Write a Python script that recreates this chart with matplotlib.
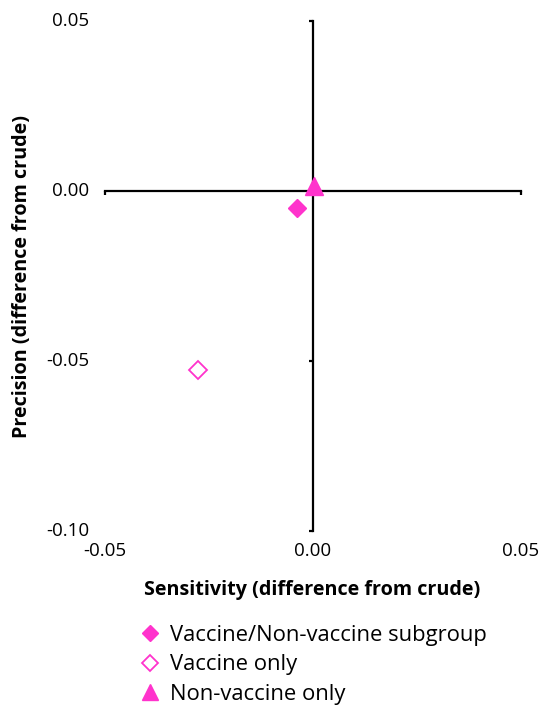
import matplotlib
matplotlib.use('Agg')
import matplotlib.pyplot as plt
import matplotlib.transforms as mtransforms
from matplotlib.lines import Line2D

# 数据
series_names = ['Vaccine/Non-vaccine subgroup', 'Vaccine only', 'Non-vaccine only']
sensitivity = [-0.0039, -0.0276, 0.0002]
precision = [-0.0049, -0.0527, 0.0016]
x_ticks = [-0.05, 0.00, 0.05]
y_ticks = [0.05, 0.00, -0.05, -0.10]

pink = '#FF33CC'
styles = [
    dict(marker='D', ms=9, mfc=pink, mec=pink, mew=1),
    dict(marker='D', ms=9, mfc='white', mec=pink, mew=1.3),
    dict(marker='^', ms=13, mfc=pink, mec=pink, mew=1),
]

plt.rcParams['font.family'] = ['Open Sans', 'DejaVu Sans']

fig = plt.figure(figsize=(5.44, 7.06), dpi=100)
ax = fig.add_axes([105 / 544, 1 - 531 / 706, 416 / 544, 510 / 706])

for xv, yv, st in zip(sensitivity, precision, styles):
    ax.plot([xv], [yv], ls='none', zorder=5, clip_on=False, **st)

ax.set_xlim(-0.05, 0.05)
ax.set_ylim(-0.10, 0.05)

# 坐标轴放在 0 处
ax.spines['left'].set_position(('data', 0))
ax.spines['bottom'].set_position(('data', 0))
ax.spines['right'].set_visible(False)
ax.spines['top'].set_visible(False)
for s in ['left', 'bottom']:
    ax.spines[s].set_linewidth(1.6)
ax.set_xticks(x_ticks)
ax.set_yticks(y_ticks)
ax.tick_params(direction='out', length=3, width=1.6, labelleft=False, labelbottom=False)

# 刻度标签放在绘图区边缘
ty = mtransforms.blended_transform_factory(ax.transAxes, ax.transData)
for v in y_ticks:
    ax.text(-0.038, v, f'{v:.2f}', transform=ty, ha='right', va='center', fontsize=13.5)
tx = mtransforms.blended_transform_factory(ax.transData, ax.transAxes)
for v in x_ticks:
    ax.text(v, -0.04, f'{v:.2f}', transform=tx, ha='center', va='center', fontsize=13.5)

fig.text(312 / 544, 1 - 590 / 706, 'Sensitivity (difference from crude)',
         ha='center', va='center', fontsize=14.2, fontweight='bold')
fig.text(22 / 544, 1 - 277 / 706, 'Precision (difference from crude)',
         ha='center', va='center', rotation=90, fontsize=14.2, fontweight='bold')

handles = []
for name, st in zip(series_names, styles):
    st2 = dict(st)
    st2['ms'] = st['ms'] * 0.85
    handles.append(Line2D([], [], ls='none', label=name, **st2))
leg = fig.legend(handles=handles, loc='upper left', bbox_to_anchor=(124 / 544, 1 - 614 / 706),
                 frameon=False, fontsize=15.8, handletextpad=0.2, labelspacing=0.38,
                 borderpad=0, handlelength=1.4)

fig.savefig('out.png', dpi=100)
